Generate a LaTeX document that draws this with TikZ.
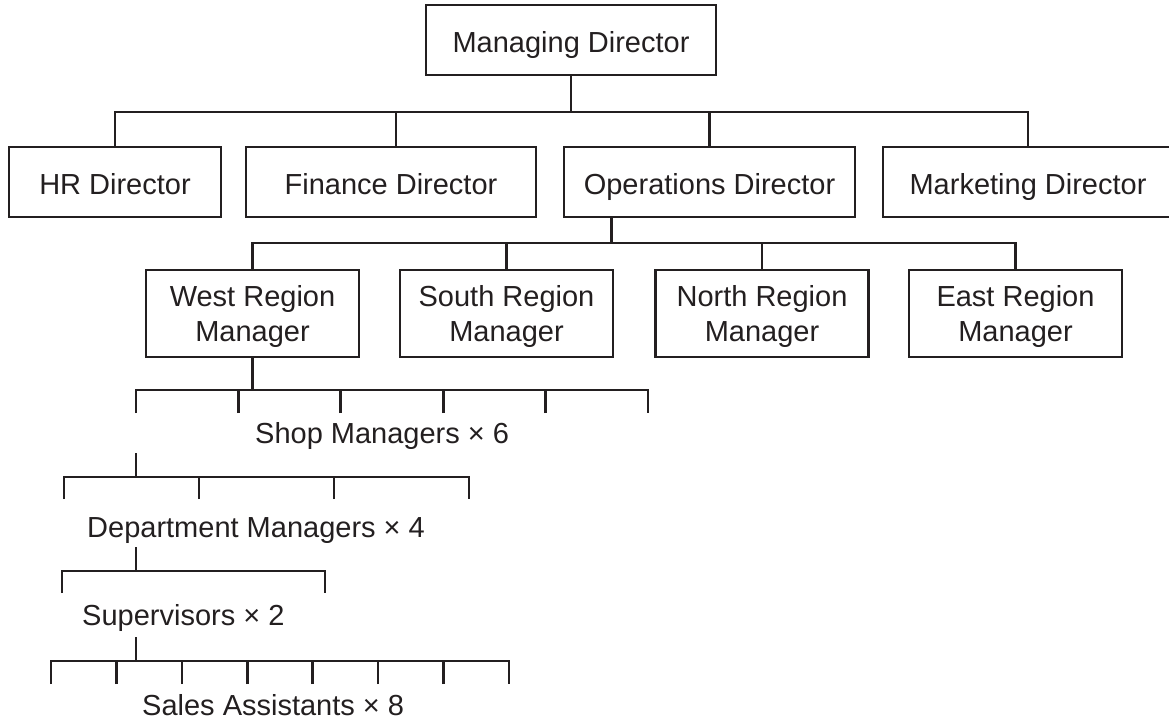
\documentclass[tikz,border=0pt]{standalone}
\usepackage{fontspec}
\setmainfont{Liberation Sans}
\definecolor{ink}{RGB}{35,31,32}
\begin{document}
\begin{tikzpicture}[x=1pt,y=-1pt,
  every node/.style={font=\fontsize{29}{35}\selectfont, text=ink},
  box/.style={draw=ink, line width=2.7pt, inner sep=0pt, minimum height=70pt,
              text height=25pt, text depth=0pt},
  boxtwo/.style={draw=ink, line width=2.7pt, inner sep=0pt, minimum width=213pt,
              minimum height=87pt, align=center, text depth=0pt},
  conn/.style={draw=ink, line width=2.7pt},
  lbl/.style={anchor=base west, inner sep=0pt}]
\useasboundingbox (0,0) rectangle (1169,722);

% boxes
\node[box, minimum width=290pt] (md)  at (571,40)    {Managing Director};
\node[box, minimum width=212pt] (hr)  at (115,182)   {HR Director};
\node[box, minimum width=290pt] (fin) at (391,182)   {Finance Director};
\node[box, minimum width=291pt] (ops) at (709.5,182) {Operations Director};
\node[box, minimum width=290pt] (mkt) at (1028,182)  {Marketing Director};

\node[boxtwo] (west)  at (252.5,313.5)  {West Region\\Manager};
\node[boxtwo] (south) at (506.5,313.5)  {South Region\\Manager};
\node[boxtwo] (north) at (762,313.5)    {North Region\\Manager};
\node[boxtwo] (east)  at (1015.5,313.5) {East Region\\Manager};

% bus levels
\coordinate (busA) at (0,112);
\coordinate (busB) at (0,243);

% Managing Director to directors
\draw[conn] (md.south) -- (md.south |- busA);
\draw[conn] (hr.north) |- (mkt.north |- busA) -- (mkt.north);
\draw[conn] ([xshift=5pt]fin.north) -- ([xshift=5pt]fin.north |- busA);
\draw[conn] (ops.north) -- (ops.north |- busA);

% Operations Director to region managers
\coordinate (opsdrop) at ([xshift=49pt]ops.south west);
\draw[conn] (opsdrop) -- (opsdrop |- busB);
\draw[conn] (west.north) |- (east.north |- busB) -- (east.north);
\draw[conn] (south.north) -- (south.north |- busB);
\draw[conn] (north.north) -- (north.north |- busB);

% Shop managers
\coordinate (busC) at (0,390);
\draw[conn] (west.south) -- (west.south |- busC);
\foreach \i/\x in {1/136,2/238.4,3/340.8,4/443.2,5/545.6,6/648}
  \coordinate (s\i) at (\x,413);
\draw[conn] (s1) |- (s6 |- busC) -- (s6);
\foreach \i in {2,3,4,5} \draw[conn] (s\i) -- (s\i |- busC);
\node[lbl] (shoplbl) at (255,443) {Shop Managers \texttimes{} 6};

% Department managers
\coordinate (shopfrom) at (136,453);
\coordinate (busD) at (0,477);
\draw[conn] (shopfrom) -- (shopfrom |- busD);
\foreach \i/\x in {1/64,2/199,3/334,4/469}
  \coordinate (d\i) at (\x,499);
\draw[conn] (d1) |- (d4 |- busD) -- (d4);
\foreach \i in {2,3} \draw[conn] (d\i) -- (d\i |- busD);
\node[lbl] (deptlbl) at (87,537) {Department Managers \texttimes{} 4};

% Supervisors
\coordinate (deptfrom) at (136,547);
\coordinate (busE) at (0,571);
\draw[conn] (deptfrom) -- (deptfrom |- busE);
\coordinate (v1) at (62,593);
\coordinate (v2) at (325,593);
\draw[conn] (v1) |- (v2 |- busE) -- (v2);
\node[lbl] (suplbl) at (82,625) {Supervisors \texttimes{} 2};

% Sales assistants
\coordinate (supfrom) at (136,637);
\coordinate (busF) at (0,661);
\draw[conn] (supfrom) -- (supfrom |- busF);
\foreach \i/\x in {1/51,2/116.4,3/181.9,4/247.3,5/312.7,6/378.1,7/443.6,8/509}
  \coordinate (a\i) at (\x,684);
\draw[conn] (a1) |- (a8 |- busF) -- (a8);
\foreach \i in {2,...,7} \draw[conn] (a\i) -- (a\i |- busF);
\node[lbl] (saleslbl) at (142,715) {Sales Assistants \texttimes{} 8};
\end{tikzpicture}
\end{document}
